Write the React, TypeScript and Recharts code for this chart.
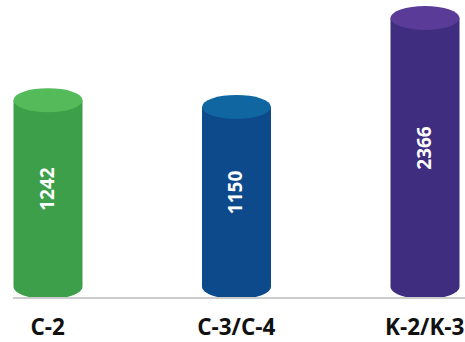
import { BarChart, Bar, XAxis, YAxis, Cell } from 'recharts';

const categories = ['C-2', 'C-3/C-4', 'K-2/K-3'];
const values = [1242, 1150, 2366];
const bodyColors = ['#3d9f49', '#0d4a8c', '#3f2d7f'];
const topColors = ['#55bb5a', '#0f66a0', '#5a3c98'];

const data = categories.map((name, i) => ({ name, value: values[i] }));

function Cylinder(props: any) {
  const { x, y, width, value, index, background } = props;
  const base = background ? background.y + background.height : 298;
  const rx = width / 2;
  const ry = 12;
  const bottom = base - 11;
  const cx = x + rx;
  const body = `M${x},${y} L${x},${bottom} A${rx},${ry} 0 0 0 ${x + width},${bottom} L${x + width},${y} Z`;
  const cy = (y + base) / 2 - 10;
  return (
    <g>
      <path d={body} fill={bodyColors[index]} />
      <ellipse cx={cx} cy={y} rx={rx} ry={ry} fill={topColors[index]} />
      <text
        x={cx - 1}
        y={cy}
        fill="#fff"
        fontFamily="'Open Sans', sans-serif"
        fontWeight={700}
        fontSize={19}
        textAnchor="middle"
        dominantBaseline="central"
        transform={`rotate(-90 ${cx - 1} ${cy})`}
      >
        {value}
      </text>
    </g>
  );
}

export default function App() {
  return (
    <div style={{ position: 'absolute', left: 0, top: 0, width: 465, height: 342, background: '#fff' }}>
      <BarChart width={465} height={342} data={data} margin={{ top: 18, right: 0, left: 13, bottom: 0 }}>
        <XAxis
          dataKey="name"
          height={44}
          padding={{ left: -59.5, right: -54 }}
          axisLine={{ stroke: '#cccccc', strokeWidth: 2 }}
          tickLine={false}
          tickSize={0}
          tickMargin={21}
          interval={0}
          tick={{ fill: '#111', fontSize: 22.5, fontWeight: 700, fontFamily: "'Open Sans', sans-serif" }}
        />
        <YAxis hide domain={[-1464, 2366]} />
        <Bar dataKey="value" barSize={69} shape={<Cylinder />} isAnimationActive={false}>
          {data.map((d, i) => (
            <Cell key={d.name} fill={bodyColors[i]} />
          ))}
        </Bar>
      </BarChart>
    </div>
  );
}
